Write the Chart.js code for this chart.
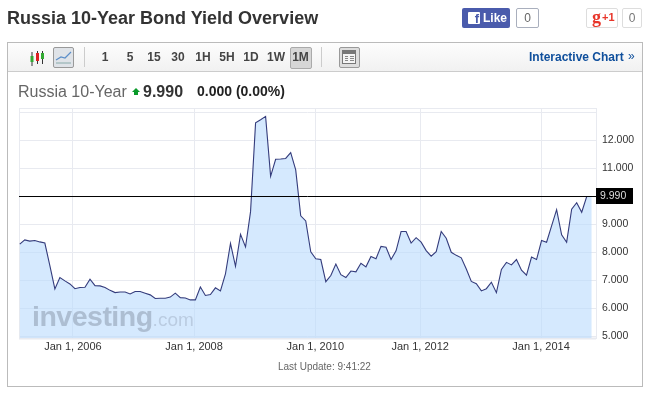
<!DOCTYPE html>
<html><head><meta charset="utf-8">
<script src="https://cdn.jsdelivr.net/npm/chart.js@4"></script>
<style>
html,body{margin:0;padding:0;background:#fff;overflow:hidden}
body{width:655px;height:396px;position:relative;font-family:"Liberation Sans",Arial,sans-serif}
.a{position:absolute;white-space:nowrap}
canvas{position:absolute;left:0;top:0}
.tf{font-weight:bold;font-size:12px;color:#444;top:50px;line-height:14px;transform:translateX(-50%)}
</style></head><body>
<div class="a" id="frame" style="left:7px;top:42px;width:634px;height:343px;border:1px solid #bbb"></div>
<div class="a" style="left:8px;top:43px;width:634px;height:28px;background:linear-gradient(#fdfdfd,#f1f1f1);border-bottom:1px solid #ccc"></div>
<canvas id="c" width="655" height="396"></canvas>

<div class="a" style="left:7px;top:7px;font-size:18px;font-weight:bold;color:#333;line-height:22px">Russia 10-Year Bond Yield Overview</div>

<div class="a" style="left:462px;top:8px;width:48px;height:20px;background:#4a5bac;border-radius:2px"></div>
<div class="a" style="left:468px;top:12px;width:12px;height:12px;background:#fff;border-radius:1px;color:#4a5bac;font:bold 13px/14px 'Liberation Sans';text-align:right;overflow:hidden"><span style="padding-right:1px">f</span></div>
<div class="a" style="left:483px;top:11px;font-size:12px;font-weight:bold;color:#fff;line-height:14px">Like</div>
<div class="a" style="left:516px;top:8px;width:21px;height:18px;border:1px solid #a9afbd;border-radius:2px;font-size:12px;line-height:18px;text-align:center;color:#666">0</div>
<div class="a" style="left:586px;top:8px;width:30px;height:18px;border:1px solid #ddd;border-radius:2px;line-height:18px;color:#e8352a"></div>
<div class="a" style="left:592px;top:7px;color:#e8352a;font:bold 18px/20px 'Liberation Serif'">g</div>
<div class="a" style="left:602px;top:10px;color:#e8352a;font:bold 11px/14px 'Liberation Sans'">+1</div>
<div class="a" style="left:622px;top:8px;width:18px;height:18px;border:1px solid #ddd;border-radius:2px;font-size:12px;line-height:18px;text-align:center;color:#777">0</div>

<svg class="a" style="left:28px;top:49px" width="18" height="18">
<path d="M4 3v14M9.5 2v13M14.5 2v13" stroke="#333" stroke-width="1"/>
<rect x="2.5" y="7" width="3" height="6" fill="#3a3"/><rect x="8" y="4" width="3" height="8" fill="#d22"/><rect x="13" y="4" width="3" height="6" fill="#3a3"/></svg>
<div class="a" style="left:53px;top:47px;width:19px;height:19px;border:1px solid #999;border-radius:2px;background:#dfe3e8"></div>
<svg class="a" style="left:55px;top:50px" width="18" height="15"><path d="M1 10L6 7L10 8L16 2" fill="none" stroke="#5b8fc9" stroke-width="1.2"/><path d="M1 13H16" stroke="#8aa" stroke-width="1"/></svg>
<div class="a" style="left:84px;top:47px;width:1px;height:20px;background:#ccc"></div>
<div class="a" style="left:290px;top:47px;width:20px;height:20px;background:#d6d6d6;border:1px solid #aaa;border-radius:2px;box-sizing:content-box"></div>
<div class="a tf" style="left:105px">1</div><div class="a tf" style="left:130px">5</div><div class="a tf" style="left:154px">15</div><div class="a tf" style="left:178px">30</div><div class="a tf" style="left:203px">1H</div><div class="a tf" style="left:227px">5H</div><div class="a tf" style="left:251px">1D</div><div class="a tf" style="left:276px">1W</div><div class="a tf" style="left:300.5px">1M</div>
<div class="a" style="left:321px;top:47px;width:1px;height:20px;background:#ccc"></div>
<div class="a" style="left:339px;top:47px;width:19px;height:19px;background:#ddd;border:1px solid #999;border-radius:2px"></div>
<svg class="a" style="left:342px;top:50px" width="15" height="15"><rect x=".5" y=".5" width="13" height="13" fill="#f4f4f4" stroke="#777"/><rect x="1" y="1" width="12" height="3" fill="#777"/><path d="M3 6.5H6M8 6.5H12M3 8.5H6M8 8.5H12M3 10.5H6M8 10.5H12" stroke="#888"/></svg>
<div class="a" style="left:529px;top:50px;font-size:12px;font-weight:bold;color:#0f4f9c;line-height:14px">Interactive Chart</div>
<div class="a" style="left:628px;top:49px;font-size:12px;color:#0f4f9c;line-height:14px">»</div>

<div class="a" style="left:18px;top:82px;font-size:16px;color:#666;line-height:19px">Russia 10-Year</div>
<svg class="a" style="left:132px;top:87px" width="8" height="9"><path d="M4 1L8 5H6V8H2V5H0Z" fill="#0a9a2a"/></svg>
<div class="a" style="left:143px;top:82px;font-size:16px;font-weight:bold;color:#333;line-height:19px">9.990</div>
<div class="a" style="left:197px;top:83px;font-size:14px;font-weight:bold;color:#222;line-height:17px">0.000 (0.00%)</div>

<div class="a" style="left:32px;top:299px;font-size:28.5px;font-weight:bold;letter-spacing:-.5px;color:rgba(120,130,150,.42);line-height:34px">investing<span style="font-weight:normal;font-size:19px;letter-spacing:0;color:rgba(120,130,150,.28)">.com</span></div>

<div class="a" style="left:278px;top:361px;font-size:10px;color:#666;line-height:12px">Last Update: 9:41:22</div>

<script>
const yields=[8.29,8.44,8.40,8.42,8.37,8.33,7.52,6.69,7.10,6.98,6.87,6.70,6.74,6.75,7.04,6.81,6.80,6.74,6.64,6.56,6.58,6.58,6.51,6.60,6.60,6.54,6.48,6.35,6.36,6.36,6.40,6.54,6.38,6.37,6.30,6.30,6.76,6.46,6.49,
6.73,6.62,7.23,8.32,7.50,8.64,8.19,9.45,12.62,12.73,12.85,10.71,11.32,11.33,11.35,11.56,10.94,9.30,9.12,8.02,7.77,7.74,6.95,7.17,7.58,7.20,7.10,7.33,7.30,7.61,7.48,7.85,7.77,8.21,8.18,7.74,8.05,8.74,8.74,8.33,8.52,
8.36,8.06,7.86,8.02,8.74,8.50,8.00,7.89,7.80,7.40,6.96,6.88,6.62,6.70,6.93,6.56,7.39,7.64,7.55,7.74,7.36,7.18,7.83,7.74,8.42,8.36,8.94,9.52,8.62,8.36,9.54,9.77,9.43,9.99,9.99];
const xTickLabels=["Jan 1, 2006","Jan 1, 2008","Jan 1, 2010","Jan 1, 2012","Jan 1, 2014"];
const xTickPoints=[10.6,34.75,58.9,79.8,103.9];
const yTicks=[5,6,7,8,9,10,11,12,13];
const yLabelled=[5,6,7,8,9,11,12];
const lastValue=9.99;
const xMin=-0.15,xMax=114.85,yMin=4.94,yMax=13.15;
const gridColor="#e8eaf0";

const framePlugin={id:"frame",
 beforeDatasetsDraw(ch){const a=ch.chartArea,c=ch.ctx;c.save();c.strokeStyle=gridColor;c.lineWidth=1;
  c.strokeRect(a.left+.5,a.top+.5,a.width,a.height);c.lineWidth=2;c.beginPath();c.moveTo(a.left,a.bottom+.5);c.lineTo(a.right,a.bottom+.5);c.stroke();c.restore();},
 afterDraw(ch){const y=ch.scales.y.getPixelForValue(lastValue),a=ch.chartArea,c=ch.ctx;c.save();
  c.fillStyle="#000";c.fillRect(a.right,Math.round(y)-9,37,16);
  c.fillStyle="#ddd";c.font="10.5px 'Liberation Sans'";c.textBaseline="middle";c.textAlign="left";c.fillText(lastValue.toFixed(3),a.right+4,Math.round(y)-1);c.restore();}
};

new Chart(document.getElementById("c"),{
 type:"line",
 data:{datasets:[
  {data:[{x:xMin,y:lastValue},{x:xMax,y:lastValue}],borderColor:"#000",borderWidth:1,pointRadius:0,fill:false,order:0},
  {data:yields.map((v,i)=>({x:i,y:v})),borderColor:"#343c7c",borderWidth:1.1,pointRadius:0,tension:0,fill:"start",backgroundColor:"rgba(188,219,253,.62)",order:1}
 ]},
 plugins:[framePlugin],
 options:{responsive:false,animation:false,events:[],
  layout:{padding:{left:19,top:108,right:0,bottom:0}},
  plugins:{legend:{display:false},tooltip:{enabled:false},title:{display:false}},
  scales:{
   x:{type:"linear",min:xMin,max:xMax,
    afterBuildTicks(s){s.ticks=xTickPoints.map(v=>({value:v}));},
    afterFit(s){s.height=58;},
    grid:{color:gridColor,lineWidth:1,drawTicks:false},border:{display:false},
    ticks:{autoSkip:false,maxRotation:0,padding:2,color:"#333",font:{family:"'Liberation Sans'",size:11},
     callback(v){return xTickLabels[xTickPoints.indexOf(v)];}}},
   y:{position:"right",min:yMin,max:yMax,
    afterBuildTicks(s){s.ticks=yTicks.map(v=>({value:v}));},
    afterFit(s){s.width=59;},
    grid:{color:gridColor,lineWidth:1,drawTicks:false},border:{display:false},
    ticks:{autoSkip:false,padding:6,color:"#333",font:{family:"'Liberation Sans'",size:10.5},
     callback(v){return yLabelled.includes(v)?v.toFixed(3):"";}}}
  }
 }
});
</script>
</body></html>
